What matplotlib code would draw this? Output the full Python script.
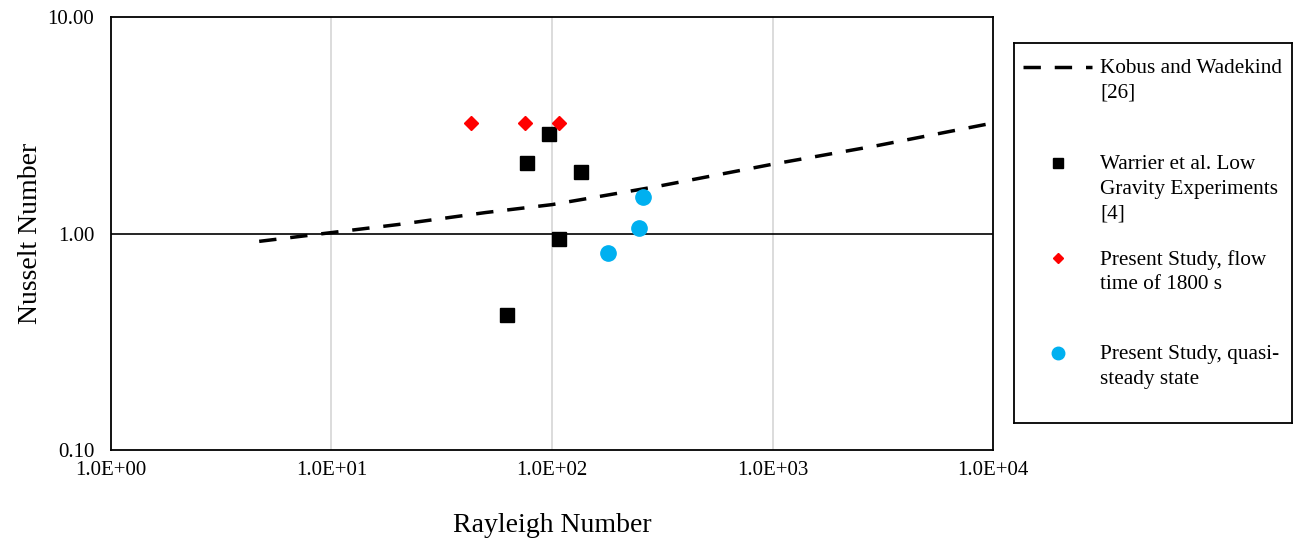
import numpy as np
import matplotlib
matplotlib.use("Agg")
from matplotlib import pyplot as plt
from matplotlib.ticker import FixedLocator, FuncFormatter, NullLocator

plt.rcParams['font.family'] = ['Liberation Serif', 'DejaVu Serif']

# Kobus and Wadekind correlation
kobus_ra = [4.7, 10, 20, 50, 100, 150, 300, 1000, 3000, 10000]
kobus_nu = [0.92, 1.01, 1.10, 1.25, 1.36, 1.46, 1.65, 2.09, 2.55, 3.24]

# Warrier et al. low gravity experiments
warrier_ra = [62.5, 77.0, 96.9, 107.6, 135.3]
warrier_nu = [0.42, 2.12, 2.89, 0.94, 1.92]

# present study, flow time of 1800 s
flow_ra = [42.9, 75.4, 107.6]
flow_nu = [3.25, 3.25, 3.25]

# present study, quasi-steady state
quasi_ra = [180, 249, 259]
quasi_nu = [0.81, 1.06, 1.48]

x_ticks = [1, 10, 100, 1000, 10000]
y_ticks = [0.1, 1, 10]

labels = ['Kobus and Wadekind\n[26]',
          'Warrier et al. Low\nGravity Experiments\n[4]',
          'Present Study, flow\ntime of 1800 s',
          'Present Study, quasi-\nsteady state']

RED = '#ff0000'
BLUE = '#00b0f0'

fig = plt.figure(figsize=(13.01, 5.42), dpi=100)
ax = fig.add_axes([0.0853, 0.1697, 0.678, 0.7989])

ax.set_xscale('log')
ax.set_yscale('log')
ax.set_xlim(1, 10000)
ax.set_ylim(0.1, 10)

for v in x_ticks[1:-1]:
    ax.axvline(v, color='#d9d9d9', lw=1.3, zorder=0)
ax.axhline(1, color='black', lw=1.2, zorder=1)

ax.plot(kobus_ra, kobus_nu, color='black', lw=2.5, dashes=(5, 4), zorder=3)
ax.plot(warrier_ra, warrier_nu, ls='none', marker='s', ms=10, color='black', zorder=4)
ax.plot(flow_ra, flow_nu, ls='none', marker='D', ms=7.5, color=RED, zorder=4)
ax.plot(quasi_ra, quasi_nu, ls='none', marker='o', ms=11, color=BLUE, zorder=4)

ax.xaxis.set_major_locator(FixedLocator(x_ticks))
ax.yaxis.set_major_locator(FixedLocator(y_ticks))
ax.xaxis.set_minor_locator(NullLocator())
ax.yaxis.set_minor_locator(NullLocator())
ax.xaxis.set_major_formatter(FuncFormatter(lambda v, p: f'{v:.1E}'))
ax.yaxis.set_major_formatter(FuncFormatter(lambda v, p: f'{v:.2f}'))
ax.tick_params(axis='both', length=0, labelsize=15)
ax.tick_params(axis='x', pad=8)
ax.tick_params(axis='y', pad=12)
for s in ax.spines.values():
    s.set_linewidth(1.3)

ax.set_xlabel('Rayleigh Number', fontsize=20, labelpad=24)
ax.set_ylabel('Nusselt Number', fontsize=20, labelpad=3)

# legend box drawn by hand to follow the uneven spacing of the original
lg = fig.add_axes([0.7794, 0.2196, 0.2137, 0.7011])
lg.set_xlim(0, 278)
lg.set_ylim(380, 0)
lg.set_xticks([])
lg.set_yticks([])
for s in lg.spines.values():
    s.set_linewidth(1.3)

rows = [24, 120, 215, 310]
lg.plot([9, 78], [rows[0], rows[0]], color='black', lw=2.5, dashes=(5, 4))
lg.plot([44], [rows[1]], marker='s', ms=7, color='black')
lg.plot([44], [rows[2]], marker='D', ms=5, color=RED)
lg.plot([44], [rows[3]], marker='o', ms=9, color=BLUE)
for y, t in zip(rows, labels):
    lg.text(86, y - 8, t, fontsize=15.3, va='top', ha='left', linespacing=1.4)

fig.savefig('out.png', dpi=100)
